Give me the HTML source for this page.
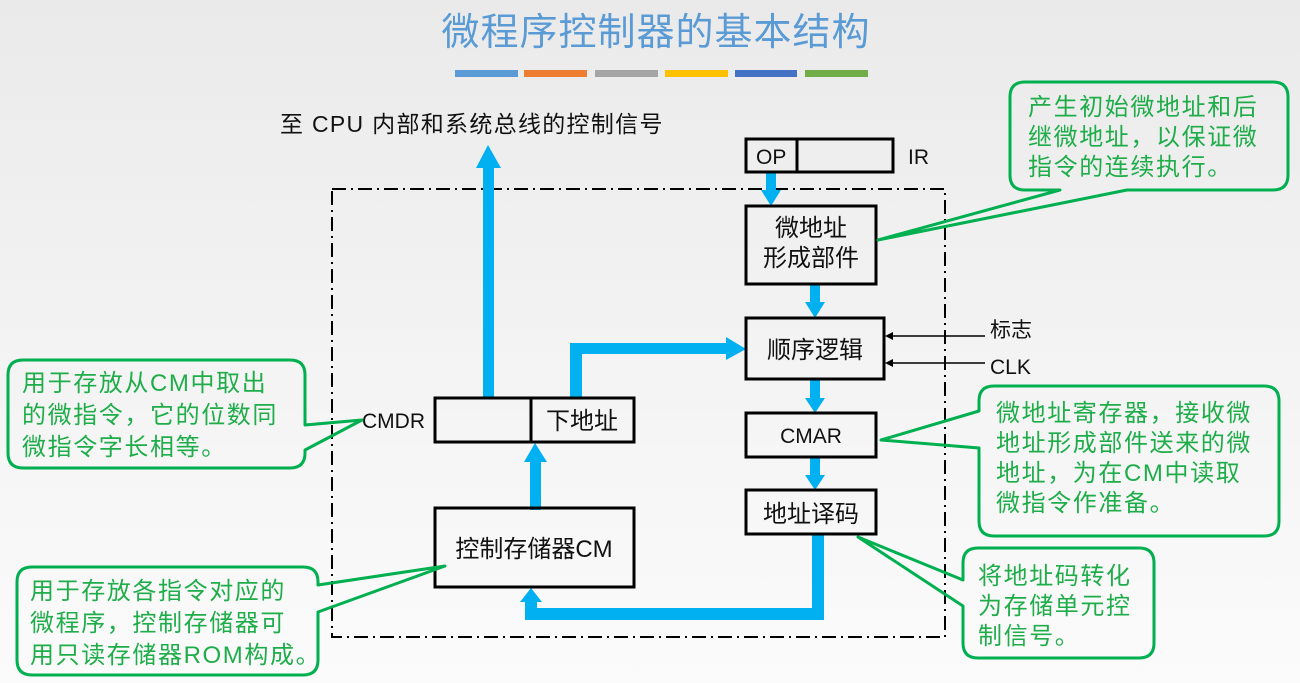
<!DOCTYPE html>
<html><head><meta charset="utf-8"><style>
html,body{margin:0;padding:0;width:1300px;height:683px;overflow:hidden}
body{background:linear-gradient(#eaeaea,#f3f3f3 50%,#fbfbfb)}
svg{position:absolute;left:0;top:0}
text{font-family:"Liberation Sans","Noto Sans CJK SC",sans-serif}
.g{fill:#1fad4a;font-size:24px;letter-spacing:1.6px}
.k{fill:#111;font-size:21px}
.c{font-size:24px}
.co{fill:none;stroke:#00b050;stroke-width:3;stroke-linejoin:round}
.bx{fill:none;stroke:#000;stroke-width:3}
.bl{fill:#00b0f0}
</style></head><body>
<svg width="1300" height="683" viewBox="0 0 1300 683">
<text x="656" y="45" text-anchor="middle" style="font-size:38px;fill:#5b9bd5;letter-spacing:1px">微程序控制器的基本结构</text>
<rect x="455" y="70" width="63" height="7" fill="#5b9bd5"/>
<rect x="524" y="70" width="63" height="7" fill="#ed7d31"/>
<rect x="595" y="70" width="63" height="7" fill="#a5a5a5"/>
<rect x="665" y="70" width="63" height="7" fill="#ffc000"/>
<rect x="735" y="70" width="62" height="7" fill="#4472c4"/>
<rect x="805" y="70" width="63" height="7" fill="#70ad47"/>

<rect x="332" y="189" width="613" height="448" fill="none" stroke="#000" stroke-width="2" stroke-dasharray="14,5,2,5"/>

<text x="280" y="132" style="font-size:23px;fill:#111;letter-spacing:1.3px">至 CPU 内部和系统总线的控制信号</text>

<rect class="bl" x="483" y="165" width="11" height="234"/>
<polygon class="bl" points="476,168 501,168 488,145"/>
<rect class="bl" x="766" y="172" width="10" height="20"/>
<polygon class="bl" points="761,190 781,190 771,206"/>
<rect class="bl" x="810" y="284" width="10" height="20"/>
<polygon class="bl" points="805,302 825,302 815,318"/>
<rect class="bl" x="810" y="379" width="10" height="20"/>
<polygon class="bl" points="805,398 825,398 815,413"/>
<rect class="bl" x="810" y="457" width="10" height="20"/>
<polygon class="bl" points="805,475 825,475 815,490"/>
<path class="bl" d="M812,534 H824 V620 H525 V600 H537 V608 H812 Z"/>
<polygon class="bl" points="520,602 542,602 531,588"/>
<rect class="bl" x="530" y="458" width="11" height="52"/>
<polygon class="bl" points="524,462 547,462 535,443"/>
<path class="bl" d="M570,398 V343 H728 V354 H582 V398 Z"/>
<polygon class="bl" points="726,337 726,360 746,349"/>

<rect class="bx" x="746" y="139" width="147" height="33"/>
<line x1="797" y1="139" x2="797" y2="172" stroke="#000" stroke-width="3"/>
<text class="k" x="756" y="164">OP</text>
<text class="k" x="908" y="164">IR</text>
<rect class="bx" x="746" y="206" width="130" height="78"/>
<text class="k c" x="811" y="236" text-anchor="middle">微地址</text>
<text class="k c" x="811" y="266" text-anchor="middle">形成部件</text>
<rect class="bx" x="746" y="318" width="138" height="61"/>
<text class="k c" x="815" y="358" text-anchor="middle">顺序逻辑</text>
<rect class="bx" x="746" y="413" width="130" height="44"/>
<text class="k" x="811" y="443" text-anchor="middle">CMAR</text>
<rect class="bx" x="746" y="490" width="130" height="44"/>
<text class="k c" x="811" y="522" text-anchor="middle">地址译码</text>
<rect class="bx" x="435" y="508" width="199" height="79"/>
<text class="k c" x="534" y="557" text-anchor="middle">控制存储器CM</text>
<rect class="bx" x="435" y="398" width="199" height="44"/>
<line x1="531" y1="398" x2="531" y2="442" stroke="#000" stroke-width="3"/>
<text class="k c" x="582" y="429" text-anchor="middle">下地址</text>
<text class="k" x="362" y="428">CMDR</text>

<line x1="985" y1="336" x2="890" y2="336" stroke="#000" stroke-width="1.5"/>
<polygon points="885,336 893,332 893,340"/>
<line x1="985" y1="363" x2="890" y2="363" stroke="#000" stroke-width="1.5"/>
<polygon points="885,363 893,359 893,367"/>
<text class="k" x="990" y="337">标志</text>
<text class="k" x="990" y="374">CLK</text>

<path class="co" d="M1025,82 H1273 Q1288,82 1288,97 V175 Q1288,190 1273,190 H1127 L878,240 L1060,190 H1025 Q1010,190 1010,175 V97 Q1010,82 1025,82 Z"/>
<text class="g" x="1028" y="115">产生初始微地址和后</text>
<text class="g" x="1028" y="145">继微地址，以保证微</text>
<text class="g" x="1028" y="175">指令的连续执行。</text>

<path class="co" d="M23,360 H290 Q305,360 305,375 V425 L362,420 L305,450 V453 Q305,468 290,468 H23 Q8,468 8,453 V375 Q8,360 23,360 Z"/>
<text class="g" x="22" y="391">用于存放从CM中取出</text>
<text class="g" x="22" y="423">的微指令，它的位数同</text>
<text class="g" x="22" y="455">微指令字长相等。</text>

<path class="co" d="M994,386 H1264 Q1279,386 1279,401 V521 Q1279,536 1264,536 H994 Q979,536 979,521 V448 L881,440 L979,411 V401 Q979,386 994,386 Z"/>
<text class="g" x="996" y="421">微地址寄存器，接收微</text>
<text class="g" x="996" y="451">地址形成部件送来的微</text>
<text class="g" x="996" y="481">地址，为在CM中读取</text>
<text class="g" x="996" y="511">微指令作准备。</text>

<path class="co" d="M978,548 H1139 Q1154,548 1154,563 V643 Q1154,658 1139,658 H978 Q963,658 963,643 V606 L858,537 L963,580 V563 Q963,548 978,548 Z"/>
<text class="g" x="978" y="584">将地址码转化</text>
<text class="g" x="978" y="614">为存储单元控</text>
<text class="g" x="978" y="644">制信号。</text>

<path class="co" d="M32,567 H303 Q318,567 318,582 V585 L445,566 L318,612 V660 Q318,675 303,675 H32 Q17,675 17,660 V582 Q17,567 32,567 Z"/>
<text class="g" x="30" y="599">用于存放各指令对应的</text>
<text class="g" x="30" y="631">微程序，控制存储器可</text>
<text class="g" x="30" y="663">用只读存储器ROM构成。</text>
</svg>
</body></html>
